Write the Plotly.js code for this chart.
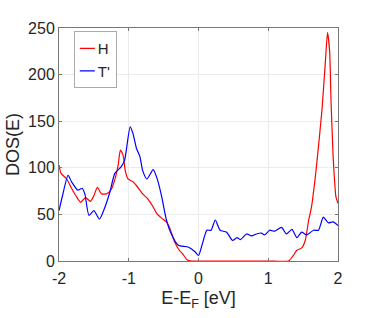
<!DOCTYPE html>
<html>
<head>
<meta charset="utf-8">
<script src="https://cdn.plot.ly/plotly-3.0.1.min.js"></script>
<style>html,body{margin:0;padding:0;background:#fff;}</style>
</head>
<body>
<div id="chart" style="width:374px;height:318px;"></div>
<script>
// H (red) series
const hE = [-2, -1.97, -1.89, -1.82, -1.75, -1.69, -1.62, -1.55, -1.50, -1.45, -1.39, -1.32, -1.25, -1.19, -1.15, -1.12, -1.08, -1.05, -1.01, -0.94, -0.89, -0.80, -0.73, -0.65, -0.60, -0.53, -0.46, -0.41, -0.34, -0.27, -0.23, -0.16, -0.10, 0.5, 1.0, 1.29, 1.36, 1.41, 1.48, 1.53, 1.58, 1.62, 1.67, 1.70, 1.77, 1.82, 1.85, 1.88, 1.90, 1.93, 1.95, 1.97, 2.0];
const hDOS = [103, 94, 88, 78, 69, 63, 68, 64, 70, 79, 72, 72, 77, 90, 104, 119, 113, 97, 88, 85, 81, 72, 67, 58, 51, 46, 42, 35, 20, 11, 8, 1, 0, 0, 0, 0, 6, 11.5, 14, 22, 44, 58, 87, 108, 162, 215, 245, 225, 172, 112, 87, 69, 62];
// T' (blue) series
const tE = [-2, -1.95, -1.87, -1.82, -1.73, -1.67, -1.63, -1.57, -1.50, -1.42, -1.35, -1.27, -1.20, -1.11, -1.06, -0.98, -0.94, -0.89, -0.84, -0.80, -0.74, -0.65, -0.60, -0.53, -0.46, -0.39, -0.29, -0.15, -0.05, 0.0, 0.05, 0.12, 0.18, 0.24, 0.31, 0.40, 0.49, 0.55, 0.60, 0.69, 0.76, 0.83, 0.90, 0.95, 1.02, 1.09, 1.19, 1.26, 1.34, 1.41, 1.48, 1.55, 1.65, 1.72, 1.79, 1.86, 1.93, 2.0];
const tDOS = [54, 70, 92, 85, 76, 78, 72, 49, 54, 45, 56, 74, 94, 101, 108, 144, 137, 121, 112, 97, 88, 98, 90, 70, 44, 29, 17, 15, 10, 6, 17, 33, 33, 44, 33, 31, 22, 25, 23, 29, 27, 29, 30, 28, 33, 32, 36, 29, 34, 25, 31, 28, 33, 33, 47, 41, 42, 38];
const xTicks = [-2, -1, 0, 1, 2];
const yTicks = [0, 50, 100, 150, 200, 250];

const fontFam = 'Liberation Sans, Arial, sans-serif';
const traces = [
  {x: hE, y: hDOS, name: 'H', type: 'scatter', mode: 'lines',
   line: {color: '#ff0000', width: 1.2, shape: 'spline', smoothing: 0.6}},
  {x: tE, y: tDOS, name: "T'", type: 'scatter', mode: 'lines',
   line: {color: '#0000ff', width: 1.2, shape: 'spline', smoothing: 0.6}}
];
const axisCommon = {
  showline: true, mirror: 'ticks', linecolor: '#777', linewidth: 1,
  ticks: 'inside', ticklen: 3, tickcolor: '#777',
  showgrid: true, gridcolor: '#ebebeb', gridwidth: 1,
  zeroline: false, tickfont: {family: fontFam, size: 16, color: '#262626'}
};
const layout = {
  width: 374, height: 318,
  margin: {l: 59, r: 36, t: 28, b: 57},
  paper_bgcolor: '#fff', plot_bgcolor: '#fff',
  showlegend: true,
  legend: {x: 0.053, y: 0.987, xanchor: 'left', yanchor: 'top',
           bgcolor: '#fff', bordercolor: '#aaa', borderwidth: 1,
           font: {family: fontFam, size: 15, color: '#262626'},
           itemwidth: 30, tracegroupgap: 0},
  xaxis: Object.assign({}, axisCommon, {
    range: [-2, 2], tickvals: xTicks, ticktext: xTicks.map(String),
    ticklabelstandoff: 3,
    title: {text: 'E-E<sub>F</sub> [eV]', standoff: 5, font: {family: fontFam, size: 18, color: '#262626'}}
  }),
  yaxis: Object.assign({}, axisCommon, {
    range: [0, 250], tickvals: yTicks, ticktext: yTicks.map(String),
    title: {text: 'DOS(E)', standoff: 3, font: {family: fontFam, size: 18, color: '#262626'}}
  })
};
function shortenLegend() {
  const gd = document.getElementById('chart');
  const lines = gd.querySelectorAll('.legend .legendlines path');
  lines.forEach(p => p.setAttribute('d', 'M5,0h15'));
  const texts = gd.querySelectorAll('.legend .legendtext');
  texts.forEach(t => t.setAttribute('x', '23'));
  const bg = gd.querySelector('.legend rect.bg');
  if (bg) {
    let maxR = 0;
    texts.forEach(t => { const b = t.getBBox(); maxR = Math.max(maxR, b.x + b.width); });
    bg.setAttribute('width', String(Math.ceil(maxR + 6)));
  }
}
Plotly.newPlot('chart', traces, layout, {displayModeBar: false, staticPlot: true}).then(shortenLegend);
</script>
</body>
</html>
